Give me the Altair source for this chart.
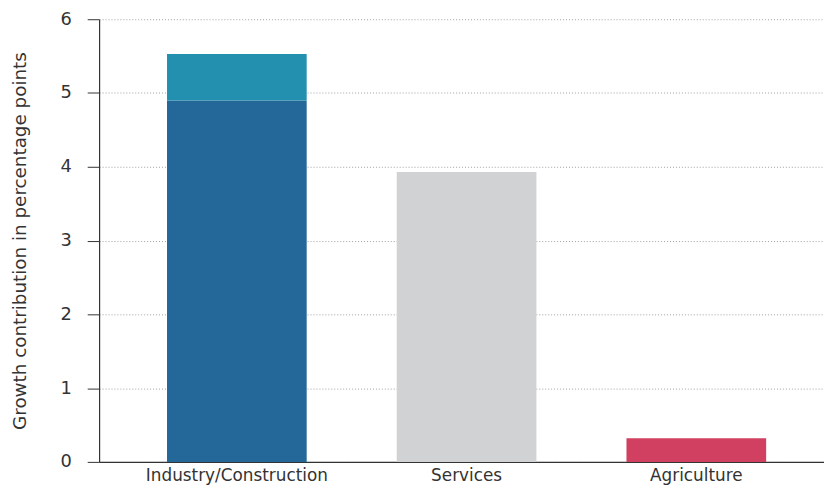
import altair as alt
import pandas as pd

categories = ["Industry/Construction", "Industry/Construction", "Services", "Agriculture"]
segments = ["Industry", "Construction", "Services", "Agriculture"]
values = [4.90, 0.63, 3.93, 0.32]
order = [0, 1, 0, 0]
seg_colors = ["#236899", "#2490b0", "#d1d2d4", "#d13f61"]
x_order = ["Industry/Construction", "Services", "Agriculture"]
y_ticks = [0, 1, 2, 3, 4, 5, 6]

df = pd.DataFrame({"category": categories, "segment": segments, "value": values, "order": order})

FONT = "DejaVu Sans"

chart = alt.Chart(df).mark_bar().encode(
    x=alt.X("category:N", sort=x_order,
            scale=alt.Scale(paddingInner=0.392, paddingOuter=0.2737, align=0.54),
            axis=alt.Axis(title=None, labelAngle=0, ticks=False, labelPadding=6, labelLimit=0,
                          labelFontSize=17, labelFont=FONT, labelColor="#333333",
                          domainColor="#333333", domainWidth=1.2, grid=False)),
    y=alt.Y("value:Q", stack="zero",
            scale=alt.Scale(domain=[0, 6], nice=False),
            axis=alt.Axis(title="Growth contribution in percentage points", values=y_ticks,
                          tickSize=12, tickColor="#333333", labelPadding=16,
                          labelFontSize=18, labelFont=FONT, labelColor="#333333",
                          titleFont=FONT, titleFontSize=18.5, titleFontWeight="normal",
                          titleColor="#333333", titlePadding=31,
                          domainColor="#333333", domainWidth=1.2,
                          grid=True, gridColor="#888888", gridDash=[1, 2], gridWidth=0.8)),
    color=alt.Color("segment:N", scale=alt.Scale(domain=segments, range=seg_colors), legend=None),
    order=alt.Order("order:Q"),
).properties(
    width=824, height=478,
    autosize=alt.AutoSizeParams(type="fit", contains="padding"),
    padding={"left": 2, "top": 0, "right": 0, "bottom": 0},
).configure_view(stroke=None)

chart.save("out.html", embed_options={"renderer": "svg", "actions": False})
